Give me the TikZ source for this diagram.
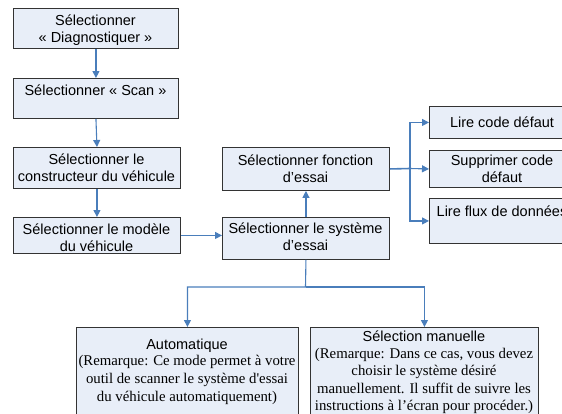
\documentclass[tikz,border=0pt]{standalone}
\usepackage{fontspec}
\setmainfont{Liberation Sans}
\newfontfamily\remfont{Liberation Serif}
\usetikzlibrary{arrows.meta}
\definecolor{boxfill}{HTML}{E8EEF8}
\definecolor{boxline}{HTML}{333333}
\definecolor{arrowblue}{HTML}{4A7EBB}
\newcommand\flowbox[5]{\node[box,minimum width={(#4-#2)*1pt},minimum height={(#5-#3)*1pt}] (#1) at (#2,#3) {};}
\begin{document}
\begin{tikzpicture}[x=1pt,y=-1pt,
  box/.style={draw=boxline, fill=boxfill, line width=0.9pt, inner sep=0pt, anchor=north west},
  txt/.style={font=\fontsize{14.5}{16.8}\selectfont, align=center, inner sep=0pt},
  rem/.style={font=\remfont\fontsize{14.8}{17.6}\selectfont, align=center, inner sep=0pt},
  conn/.style={draw=arrowblue, line width=1.1pt},
  arr/.style={conn, -{Triangle[length=7pt,width=7pt]}}]
\useasboundingbox (0,0) rectangle (562,413);
\clip (0,0) rectangle (562,413);
% boxes
\flowbox{b1}{13}{8}{178}{48}
\flowbox{b2}{13}{78}{178}{118}
\flowbox{b3}{13}{147}{180}{188}
\flowbox{b4}{13}{217}{180}{253}
\flowbox{fonc}{222}{147}{389}{190}
\flowbox{sys}{222}{217}{389}{259}
\flowbox{lc}{429}{106}{575}{138}
\flowbox{sc}{429}{150}{575}{187}
\flowbox{lf}{429}{198}{575}{243}
\flowbox{auto}{76}{327}{298}{425}
\flowbox{man}{310}{327}{538}{425}
% texts
\node[txt] (t1) at (95.5,30) {Sélectionner\\« Diagnostiquer »};
\node[txt] (t2) at (95.5,90) {Sélectionner « Scan »};
\node[txt] (t3) at (96.5,167.5) {Sélectionner le\\constructeur du véhicule};
\node[txt] (t4) at (96.5,237.5) {Sélectionner le modèle\\du véhicule};
\node[txt] (tf) at (305.5,168.5) {Sélectionner fonction\\d'essai};
\node[txt] (ts) at (305.5,236.5) {Sélectionner le système\\d'essai};
\node[txt] (tlc) at (502,122) {Lire code défaut};
\node[txt] (tsc) at (502,168.5) {Supprimer code\\défaut};
\node[txt] (tlf) at (502,211) {Lire flux de données};
\node[txt] (ta) at (187,346) {Automatique};
\node[rem] (ra) at (187,380) {(Remarque: Ce mode permet à votre\\outil de scanner le système d'essai\\du véhicule automatiquement)};
\node[txt] (tm) at (424,336) {Sélection manuelle};
\node[rem] (rm) at (424,381) {(Remarque: Dans ce cas, vous devez\\choisir le système désiré\\manuellement. Il suffit de suivre les\\instructions à l’écran pour procéder.)};
% connectors
\draw[arr] (b1.south) -- (b2.north);
\draw[arr] (b2.south) -- (b3.north);
\draw[arr] (b3.south) -- (b3.south |- b4.north);
\draw[arr] (b4.east) -- (b4.east -| sys.west);
\draw[arr] (sys.north) -- (fonc.south);
\coordinate (br) at (410,168.5);
\draw[conn, line width=1.6pt] (fonc.east) -- (br);
\draw[arr] (br) |- (lc.west);
\draw[arr] (br) -- (sc.west);
\draw[arr] (br) |- (lf.west);
\coordinate (split) at (305.5,287);
\draw[arr] (sys.south) -- (split) -| (auto.north);
\draw[arr] (split) -| (man.north);
\end{tikzpicture}
\end{document}
